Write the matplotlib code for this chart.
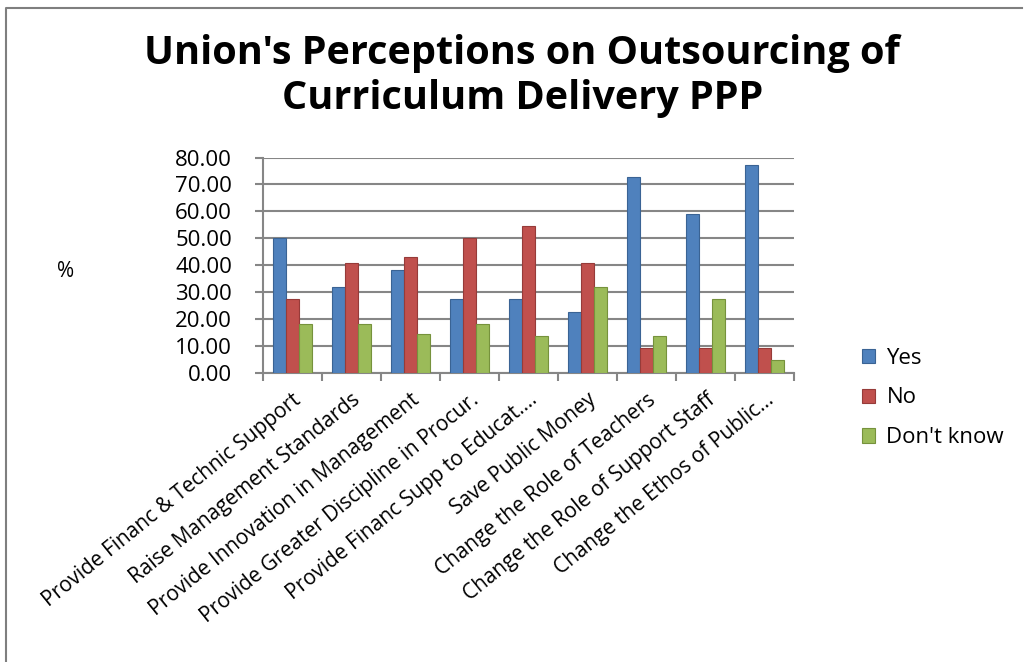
import matplotlib.pyplot as plt
import numpy as np
from matplotlib.lines import Line2D

plt.rcParams['font.family'] = ['Open Sans', 'DejaVu Sans']

categories = ['Provide Financ & Technic Support', 'Raise Management Standards',
              'Provide Innovation in Management', 'Provide Greater Discipline in Procur.',
              'Provide Financ Supp to Educat....', 'Save Public Money',
              'Change the Role of Teachers', 'Change the Role of Support Staff',
              'Change the Ethos of Public...']
yes = [50.00, 31.82, 38.10, 27.27, 27.27, 22.73, 72.73, 59.09, 77.27]
no = [27.27, 40.91, 42.86, 50.00, 54.55, 40.91, 9.09, 9.09, 9.09]
dont_know = [18.18, 18.18, 14.29, 18.18, 13.64, 31.82, 13.64, 27.27, 4.55]
series = ['Yes', 'No', "Don't know"]
colors = ['#4F81BD', '#C0504D', '#9BBB59']
edges = ['#3A6394', '#963B39', '#76923C']

fig = plt.figure(figsize=(10.26, 6.62), dpi=100)
ax = fig.add_axes([0.256, 0.437, 0.518, 0.325])

x = np.arange(len(categories))
w = 0.22
for i, vals in enumerate([yes, no, dont_know]):
    ax.bar(x + (i - 1) * w, vals, w, color=colors[i], edgecolor=edges[i],
           linewidth=0.8, label=series[i], zorder=3)

ax.set_xlim(-0.5, len(categories) - 0.5)
ax.set_ylim(0, 80)
ax.set_yticks(np.arange(0, 81, 10))
ax.set_yticklabels(['%.2f' % v for v in np.arange(0, 81, 10)], fontsize=16)
ax.yaxis.grid(True, color='#868686', linewidth=1.5, zorder=0)
ax.set_xticks(np.arange(-0.5, len(categories), 1), minor=True)
ax.set_xticks(x)
ax.set_xticklabels(categories, rotation=39, ha='right', rotation_mode='anchor',
                   fontsize=15)
ax.tick_params(axis='x', which='major', length=0, pad=12)
ax.tick_params(axis='x', which='minor', length=6, color='#868686', width=1.5)
ax.tick_params(axis='y', length=6, color='#868686', width=1.5, pad=16)
for s in ['top', 'right']:
    ax.spines[s].set_visible(False)
for s in ['left', 'bottom']:
    ax.spines[s].set_color('#868686')
    ax.spines[s].set_linewidth(1.5)

fig.text(0.0635, 0.59, '%', fontsize=15, ha='center', va='center')
fig.text(0.509, 0.885, "Union's Perceptions on Outsourcing of\nCurriculum Delivery PPP",
         fontsize=28.5, fontweight='bold', ha='center', va='center', linespacing=1.2)

ax.legend(loc='upper left', bbox_to_anchor=(1.09, 0.21), frameon=False,
          fontsize=16, handlelength=0.6, handleheight=0.6, labelspacing=0.85,
          handletextpad=0.5)

# page frame (left and top edges)
fig.lines.append(Line2D([0.006, 0.006, 0.996], [0.0, 0.988, 0.988],
                        transform=fig.transFigure, color='#7F7F7F', linewidth=1.5))

fig.savefig('out.png', dpi=100)
